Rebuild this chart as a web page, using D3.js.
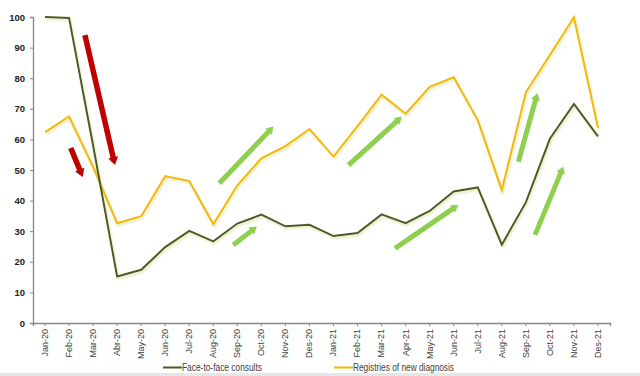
<!DOCTYPE html>
<html><head><meta charset="utf-8">
<script src="https://cdn.jsdelivr.net/npm/d3@7"></script>
<style>body{margin:0;background:#fff}svg{display:block}</style>
</head><body><svg id="c" width="640" height="376"></svg>
<script>
const months = ["Jan-20","Feb-20","Mar-20","Abr-20","May-20","Jun-20","Jul-20","Aug-20","Sep-20","Oct-20","Nov-20","Des-20",
  "Jan-21","Feb-21","Mar-21","Apr-21","May-21","Jun-21","Jul-21","Aug-21","Sep-21","Oct-21","Nov-21","Des-21"];
const faceToFace = [100,99.7,58,15.2,17.4,24.8,30.1,26.7,32.5,35.4,31.6,32.1,28.4,29.4,35.5,32.6,36.6,43.0,44.3,25.6,39.4,60.2,71.6,61.0];
const registries = [62.4,67.5,51,32.6,34.9,48.0,46.4,32.3,45.0,53.8,57.8,63.4,54.4,64.3,74.6,68.4,77.2,80.3,66.3,43.4,75.4,87.6,99.9,63.8];
const yTicks = [0,10,20,30,40,50,60,70,80,90,100];
const seriesNames = ["Face-to-face consults","Registries of new diagnosis"];
// arrows in data space: [startIndex, startValue, endIndex, endValue]
const redArrows = [[1.66,94.1,2.91,51.6],[1.07,57.2,1.57,47.7]];
const greenArrows = [[7.25,45.7,9.50,64.2],[7.83,25.5,8.81,31.5],[12.62,51.6,14.84,67.4],
  [14.56,24.4,17.19,38.6],[19.69,52.7,20.48,75.1],[20.38,28.8,21.56,51.1]];

(function(){
const svg = d3.select("#c");
const W=640,H=376;
const mL=33,mR=610,mT=17,mB=323;
const x = d3.scaleBand().domain(months).range([mL,mR]);
const xc = d => x(d)+x.bandwidth()/2;
const xi = d3.scaleLinear().domain([0,months.length-1]).range([xc(months[0]),xc(months[months.length-1])]);
const y = d3.scaleLinear().domain([0,100]).range([mB,mT]);

const defs = svg.append("defs");
const f = defs.append("filter").attr("id","sh").attr("x","-10%").attr("y","-10%").attr("width","120%").attr("height","130%");
f.append("feDropShadow").attr("dx",1).attr("dy",2).attr("stdDeviation",1).attr("flood-color","#c9d67a").attr("flood-opacity",0.55);

svg.append("rect").attr("x",0).attr("y",373).attr("width",W).attr("height",3).attr("fill","#e6e6e6");

const font="'Liberation Sans Narrow','Liberation Sans',Arial,sans-serif";
const ya = svg.append("g").attr("transform",`translate(${mL},0)`)
  .call(d3.axisLeft(y).tickValues(yTicks).tickSize(3).tickPadding(5));
ya.select(".domain").attr("stroke","#868686").attr("stroke-width",1.3);
ya.selectAll(".tick line").attr("stroke","#868686");
ya.selectAll("text").attr("font-family",font)
  .attr("font-size","9.5px").attr("font-weight","bold").attr("fill","#222");

const xa = svg.append("g").attr("transform",`translate(0,${mB})`)
  .call(d3.axisBottom(x).tickSize(3).tickSizeOuter(3).tickPadding(4));
xa.select(".domain").attr("stroke","#868686").attr("stroke-width",1.3);
xa.selectAll(".tick line").attr("stroke","#868686");
xa.selectAll("text").attr("font-family",font)
  .attr("font-size","9px").attr("fill","#404040")
  .attr("transform","rotate(-90)").attr("text-anchor","end").attr("dx","-6px").attr("dy","0.32em")
  .attr("x",0).attr("y",0);

const line = vals => d3.line().x((d,i)=>xc(months[i])).y(d=>y(d))(vals);
svg.append("path").attr("d",line(registries)).attr("fill","none").attr("stroke","#f5b800").attr("stroke-width",2).attr("filter","url(#sh)");
svg.append("path").attr("d",line(faceToFace)).attr("fill","none").attr("stroke","#4b5a28").attr("stroke-width",2).attr("filter","url(#sh)");

function arrow(a,color,w,hw,hl){
  const x0=xi(a[0]),y0=y(a[1]),x1=xi(a[2]),y1=y(a[3]);
  const dx=x1-x0,dy=y1-y0,L=Math.hypot(dx,dy),ux=dx/L,uy=dy/L,nx=-uy,ny=ux;
  const bx=x1-ux*hl,by=y1-uy*hl;
  svg.append("line").attr("x1",x0).attr("y1",y0).attr("x2",bx+ux*0.5).attr("y2",by+uy*0.5)
    .attr("stroke",color).attr("stroke-width",w);
  svg.append("path").attr("d",`M${x1},${y1}L${bx+nx*hw},${by+ny*hw}L${bx-nx*hw},${by-ny*hw}Z`).attr("fill",color);
}
redArrows.forEach(a=>arrow(a,"#c00000",5.5,5,8));
greenArrows.forEach(a=>arrow(a,"#8fcf4f",5,4.5,7));

const lg = svg.append("g");
const lx=[163,334], colors=["#4b5a28","#f5b800"], tl=[80,101];
seriesNames.forEach((n,i)=>{
  lg.append("line").attr("x1",lx[i]).attr("x2",lx[i]+19).attr("y1",367.5).attr("y2",367.5).attr("stroke",colors[i]).attr("stroke-width",2);
  lg.append("text").attr("x",lx[i]+19).attr("y",371).text(n)
    .attr("textLength",tl[i]).attr("lengthAdjust","spacingAndGlyphs")
    .attr("font-family",font).attr("font-size","10px").attr("fill","#404040");
});
})();
</script></body></html>
